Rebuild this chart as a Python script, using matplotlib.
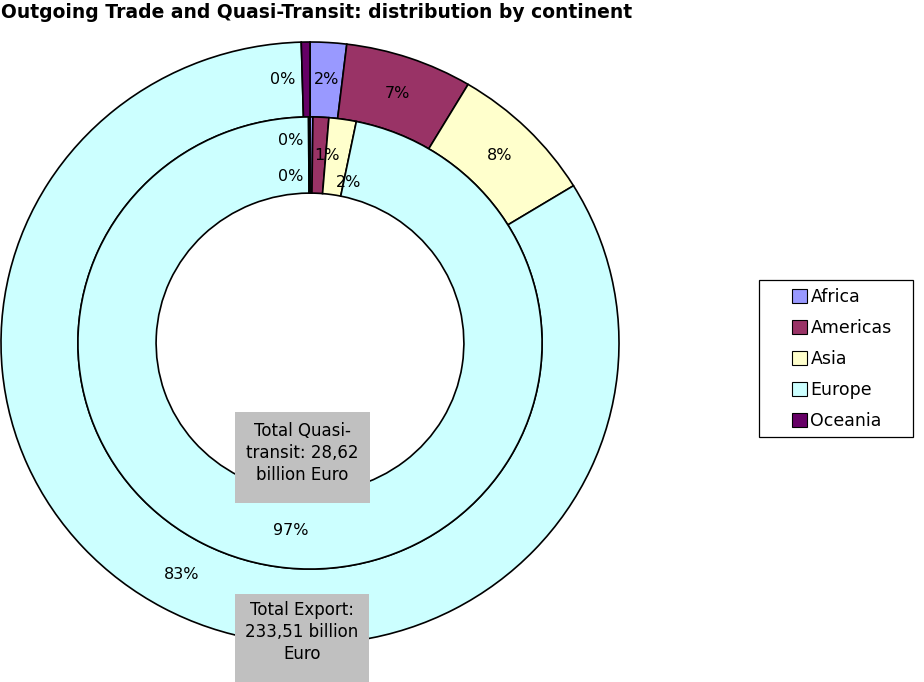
import matplotlib
matplotlib.use("Agg")
import matplotlib.pyplot as plt
import numpy as np
from matplotlib.patches import Patch, Rectangle

plt.rcParams['font.family'] = ['DejaVu Sans']

continents = ["Africa", "Americas", "Asia", "Europe", "Oceania"]
export_share = [1.9, 6.65, 7.7, 83.3, 0.45]        # outer ring (%)
quasi_share = [0.2, 1.1, 1.9, 96.7, 0.1]           # inner ring (%)
export_labels = ["2%", "7%", "8%", "83%", "0%"]
quasi_labels = ["0%", "1%", "2%", "97%", "0%"]
colors = ["#9999FF", "#993366", "#FFFFCC", "#CCFFFF", "#660066"]
title = "Outgoing Trade and Quasi-Transit: distribution by continent"
quasi_total = "Total Quasi-\ntransit: 28,62\nbillion Euro"
export_total = "Total Export:\n233,51 billion\nEuro"

W, H = 924, 682
fig = plt.figure(figsize=(W / 100, H / 100), dpi=100)
cx, cy, rx, ry = 310, 343, 309, 301
ax = fig.add_axes([(cx - rx) / W, (H - cy - ry) / H, 2 * rx / W, 2 * ry / H])

r_out, r_mid, r_in = 1.0, 0.751, 0.498
wp = dict(edgecolor="black", linewidth=1.2)
ax.pie(export_share, radius=r_out, colors=colors, startangle=90, counterclock=False,
       wedgeprops=dict(width=r_out - r_mid, **wp))
ax.pie(quasi_share, radius=r_mid, colors=colors, startangle=90, counterclock=False,
       wedgeprops=dict(width=r_mid - r_in, **wp))
ax.set_aspect("auto")
ax.set_xlim(-1, 1)
ax.set_ylim(-1, 1)
ax.axis("off")

def place(values, labels, radius, offsets):
    vals = np.array(values, dtype=float)
    cum = np.cumsum(vals) / vals.sum()
    mids = cum - vals / vals.sum() / 2
    for m, lab, (dx, dy) in zip(mids, labels, offsets):
        th = np.deg2rad(90 - 360 * m)
        ax.text(radius * np.cos(th) + dx, radius * np.sin(th) + dy, lab,
                ha="center", va="center", fontsize=11.5, color="black")

place(export_share, export_labels, (r_out + r_mid) / 2,
      [(0, 0), (0, 0), (0, 0), (0, 0), (-0.075, 0.0)])
place(quasi_share, quasi_labels, (r_mid + r_in) / 2,
      [(-0.065, 0.047), (0.026, 0.0), (0.036, -0.086), (0, 0), (-0.061, -0.07)])

# grey total boxes
def box(x0, y0, x1, y1, ty, txt):
    fig.patches.append(Rectangle((x0 / W, 1 - y1 / H), (x1 - x0) / W, (y1 - y0) / H,
                                 transform=fig.transFigure, facecolor="#C0C0C0",
                                 edgecolor="none", zorder=5))
    fig.text((x0 + x1) / 2 / W, 1 - ty / H, txt, ha="center", va="center",
             fontsize=12, linespacing=1.3, zorder=6)

box(235, 412, 370, 503, 453, quasi_total)
box(235, 594, 369, 690, 632, export_total)

fig.text(1 / W, 1 - 12 / H, title, ha="left", va="center", fontsize=13.5,
         fontweight="bold")

# legend frame drawn separately (Excel-style wide padding)
fig.patches.append(Rectangle((759 / W, 1 - 437 / H), (913 - 759) / W, (437 - 280) / H,
                             transform=fig.transFigure, facecolor="white",
                             edgecolor="black", linewidth=0.9, zorder=1))
handles = [Patch(facecolor=c, edgecolor="black", linewidth=0.8) for c in colors]
leg = fig.legend(handles, continents, loc="center left",
                 bbox_to_anchor=(792 / W, 1 - 359 / H), fontsize=12.5,
                 frameon=False, handlelength=0.86, handleheight=0.86,
                 handletextpad=0.2, labelspacing=0.74, borderpad=0,
                 borderaxespad=0)
leg.set_zorder(3)

fig.savefig("out.png", dpi=100)
